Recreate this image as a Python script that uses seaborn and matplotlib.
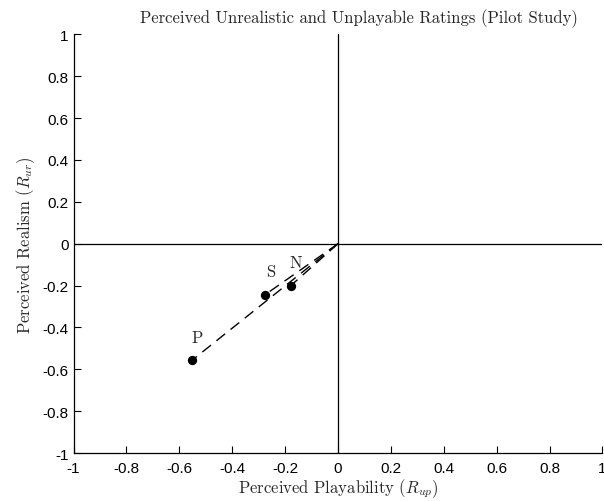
import matplotlib
matplotlib.use("Agg")
import matplotlib.pyplot as plt
import seaborn as sns
import pandas as pd
import numpy as np

conditions = ["P", "S", "N"]
playability = [-0.552, -0.276, -0.179]
realism = [-0.557, -0.244, -0.201]
ticks = [-1, -0.8, -0.6, -0.4, -0.2, 0, 0.2, 0.4, 0.6, 0.8, 1]
tick_labels = ["-1", "-0.8", "-0.6", "-0.4", "-0.2", "0", "0.2", "0.4", "0.6", "0.8", "1"]

sns.set_theme(style="ticks")
plt.rcParams['font.family'] = ['Liberation Sans', 'DejaVu Sans']
plt.rcParams['mathtext.fontset'] = 'cm'

df = pd.DataFrame({"cond": conditions, "x": playability, "y": realism})

fig = plt.figure(figsize=(6.04, 5.02), dpi=100)
ax = fig.add_axes([0.1217, 0.0956, 0.8758, 0.8339])

ax.axhline(0, color="black", lw=0.9, zorder=1)
ax.axvline(0, color="black", lw=0.9, zorder=1)

for _, r in df.iterrows():
    ax.plot([0, r.x], [0, r.y], color="black", lw=1.0, ls=(0, (8, 5)), zorder=2)

sns.scatterplot(data=df, x="x", y="y", ax=ax, color="black", s=45,
                edgecolor="black", linewidth=0, zorder=3, legend=False)

for _, r in df.iterrows():
    ax.annotate(r.cond, (r.x, r.y), xytext=(4, 11), textcoords="offset points",
                ha="center", va="bottom", fontsize=12, family="cmr10")

ax.set_xlim(-1, 1)
ax.set_ylim(-1, 1)
ax.set_xticks(ticks)
ax.set_xticklabels(tick_labels)
ax.set_yticks(ticks)
ax.set_yticklabels(tick_labels)
ax.tick_params(direction="in", length=5, width=0.8, labelsize=11, colors="black")
ax.tick_params(axis="x", pad=6)
for s in ["top", "right"]:
    ax.spines[s].set_visible(False)
for s in ["left", "bottom"]:
    ax.spines[s].set_color("black")
    ax.spines[s].set_linewidth(0.9)

ax.set_xlabel(r"Perceived Playability ($R_{up}$)", family="cmr10", fontsize=12, labelpad=1)
ax.set_ylabel(r"Perceived Realism ($R_{ur}$)", family="cmr10", fontsize=12, labelpad=4)
ax.set_title("Perceived Unrealistic and Unplayable Ratings (Pilot Study)", family="cmr10",
             fontsize=12, pad=9, x=0.54)

fig.savefig("out.png", dpi=100)
